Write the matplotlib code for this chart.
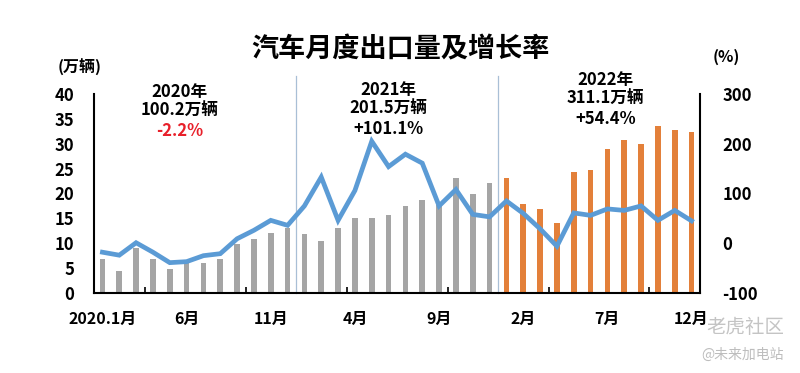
import matplotlib
matplotlib.use("Agg")
from matplotlib import pyplot as plt
from matplotlib.transforms import blended_transform_factory
import numpy as np

plt.rcParams['font.family'] = ['Noto Sans CJK SC', 'DejaVu Sans']
plt.rcParams['axes.unicode_minus'] = False

# monthly export volume (10k units), 2020.1 - 2022.12
vol_2020 = [6.8, 4.5, 9.0, 6.9, 4.8, 6.2, 6.1, 6.9, 9.8, 10.9, 12.0, 13.1]
vol_2021 = [11.8, 10.4, 13.0, 15.1, 15.1, 15.6, 17.4, 18.6, 17.7, 23.1, 19.9, 22.2]
vol_2022 = [23.1, 17.9, 16.9, 14.0, 24.3, 24.8, 28.9, 30.7, 30.0, 33.6, 32.8, 32.3]

# year-on-year growth (%)
growth = [-18, -24, 1, -18, -39, -37, -25, -21, 9, 26, 46, 36,
          75, 133, 46, 106, 205, 154, 179, 161, 75, 108, 58, 53,
          85, 60, 29, -6, 61, 56, 69, 66, 75, 46, 66, 45]

tick_pos = [0, 5, 10, 15, 20, 25, 30, 35]
tick_labels = ['2020.1月', '6月', '11月', '4月', '9月', '2月', '7月', '12月']

year_notes = [
    (4.6, 1.01, '2020年', '100.2万辆', '-2.2%', '#e8202a'),
    (17.0, 1.02, '2021年', '201.5万辆', '+101.1%', 'black'),
    (29.9, 1.07, '2022年', '311.1万辆', '+54.4%', 'black'),
]

grey = '#a5a5a5'
orange = '#e3803a'
blue = '#5b9bd5'

fig = plt.figure(figsize=(8, 3.73), dpi=100)
ax = fig.add_axes([0.1175, 0.2145, 0.7575, 0.5335])

n20, n21 = len(vol_2020), len(vol_2021)
x20 = np.arange(n20)
x21 = np.arange(n21) + n20
x22 = np.arange(len(vol_2022)) + n20 + n21
ax.bar(x20, vol_2020, width=0.34, color=grey)
ax.bar(x21, vol_2021, width=0.34, color=grey)
ax.bar(x22, vol_2022, width=0.34, color=orange)

ax.set_xlim(-0.5, 35.5)
ax.set_ylim(0, 40)
ax.set_yticks([0, 5, 10, 15, 20, 25, 30, 35, 40])
ax.tick_params(axis='y', length=0, pad=14, labelsize=12)
for t in ax.get_yticklabels():
    t.set_fontweight('bold')

ax.set_xticks(tick_pos)
ax.set_xticklabels(tick_labels, fontsize=11.5, fontweight='bold')
ax.tick_params(axis='x', which='major', length=0, pad=13)
ax.set_xticks([2.5, 8.5, 14.5, 20.5, 26.5, 32.5], minor=True)
ax.tick_params(axis='x', which='minor', direction='in', length=4, width=1.2)

for s in ['left', 'bottom', 'right']:
    ax.spines[s].set_linewidth(1.5)
    ax.spines[s].set_color('black')
ax.spines['top'].set_visible(False)

ax2 = ax.twinx()
ax2.plot(np.arange(len(growth)), growth, color=blue, lw=3.4, solid_joinstyle='miter')
ax2.set_ylim(-100, 300)
ax2.set_yticks([-100, 0, 100, 200, 300])
ax2.tick_params(axis='y', length=0, pad=16, labelsize=12)
for t in ax2.get_yticklabels():
    t.set_fontweight('bold')
for s in ax2.spines.values():
    s.set_visible(False)

# year separators
for xb in [11.5, 23.5]:
    ax.plot([xb, xb], [0, 1.09], transform=blended_transform_factory(ax.transData, ax.transAxes),
            color='#a9bfd6', lw=0.9, clip_on=False)

tr = blended_transform_factory(ax.transData, ax.transAxes)
for xc, yt, l1, l2, l3, c3 in year_notes:
    ax.text(xc, yt, l1, transform=tr, ha='center', va='center', fontsize=12, fontweight='bold')
    ax.text(xc, yt - 0.097, l2, transform=tr, ha='center', va='center', fontsize=12, fontweight='bold')
    ax.text(xc, yt - 0.194, l3, transform=tr, ha='center', va='center', fontsize=12,
            fontweight='bold', color=c3)

fig.text(0.5, 0.868, '汽车月度出口量及增长率', ha='center', va='center', fontsize=19.5, fontweight='bold')
fig.text(0.1, 0.818, '(万辆)', ha='center', va='center', fontsize=11.5, fontweight='bold')
fig.text(0.908, 0.847, '(%)', ha='center', va='center', fontsize=11.5, fontweight='bold')

# watermark
fig.text(0.98, 0.123, '老虎社区', ha='right', va='center', fontsize=14, color='#c4c4c4')
fig.text(0.98, 0.048, '@未来加电站', ha='right', va='center', fontsize=10, color='#bdbdbd')

fig.savefig('out.png', dpi=100)
